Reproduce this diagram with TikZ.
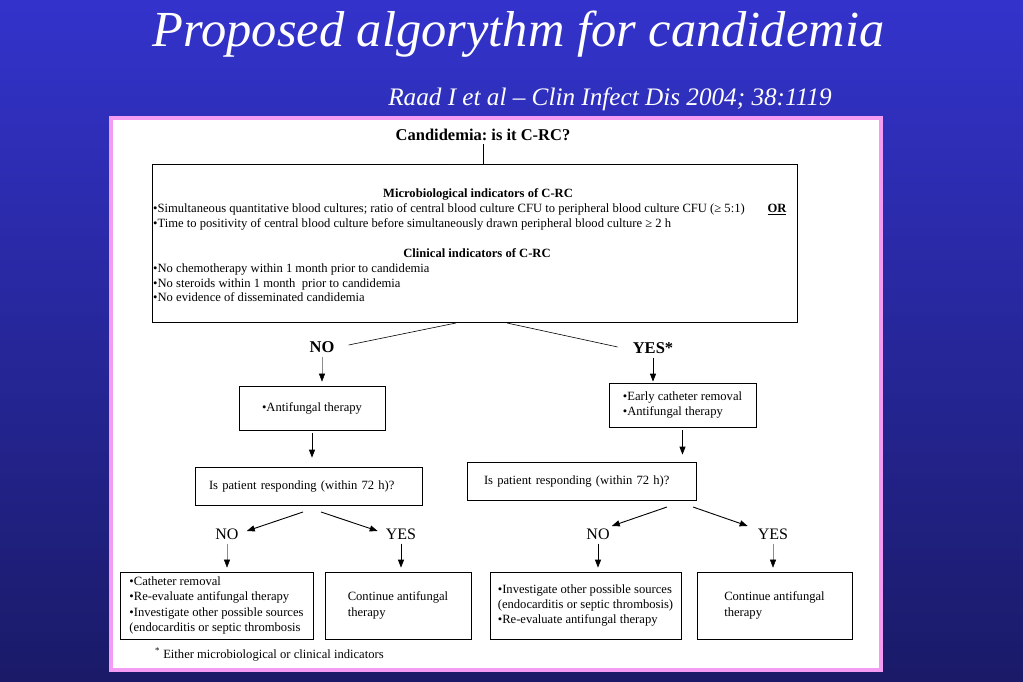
\documentclass[tikz,border=0pt]{standalone}
\usepackage{fontspec}
\setmainfont{Liberation Serif}
\usetikzlibrary{arrows.meta}
\definecolor{SlideTop}{RGB}{51,51,204}
\definecolor{SlideBottom}{RGB}{26,26,104}
\definecolor{PanelPink}{RGB}{244,156,244}
\definecolor{LineGray}{RGB}{140,140,140}
\frenchspacing

\begin{document}
\begin{tikzpicture}[x=1pt,y=-1pt,
  box/.style={draw, line width=0.7pt, inner sep=0pt, font=\fontsize{12.6}{15.3}\selectfont},
  txt/.style={inner sep=0pt, text height=8.5pt, text depth=2.7pt, font=\fontsize{12.6}{15}\selectfont},
  lab/.style={inner sep=2pt, font=\fontsize{16}{16}\selectfont},
  flow/.style={line width=0.9pt, -{Triangle[length=8pt,width=6pt]}},
  flowgray/.style={draw=LineGray, line width=0.5pt, -{Triangle[length=8pt,width=6pt,color=black]}}]
\useasboundingbox (0,0) rectangle (1023,682);

% Slide
\shade[top color=SlideTop, bottom color=SlideBottom] (0,0) rectangle (1023,682);
\node[anchor=base, text=white, font=\fontsize{50.5}{50.5}\selectfont\itshape] (title) at (518.5,47) {Proposed algorythm for candidemia};
\node[anchor=base, text=white, font=\fontsize{25.2}{25.2}\selectfont\itshape] (source) at (610,106) {Raad I et al -- Clin Infect Dis 2004; 38:1119};
\draw[line width=4pt, draw=PanelPink, fill=white] (111,118.5) rectangle (880.5,670);

% Question and indicators
\node[font=\fontsize{16.5}{16.5}\selectfont\bfseries] (q) at (483,135) {Candidemia: is it C-RC?};
\node[box, minimum width=645pt, minimum height=158pt] (crc) at (474.5,243) {};
\node[txt, font=\fontsize{12.6}{15}\selectfont\bfseries] (micro) at (478,194.5) {Microbiological indicators of C-RC};
\node[txt, anchor=west] (micro1) at (153,209.5) {•Simultaneous quantitative blood cultures; ratio of central blood culture CFU to peripheral blood culture CFU (≥ 5:1)};
\node[txt, font=\fontsize{12.6}{15}\selectfont\bfseries] (orlab) at (777,209.5) {\underline{OR}};
\node[txt, anchor=west] (micro2) at (153,224.5) {•Time to positivity of central blood culture before simultaneously drawn peripheral blood culture ≥ 2 h};
\node[txt, font=\fontsize{12.6}{15}\selectfont\bfseries] (clin) at (477,254.5) {Clinical indicators of C-RC};
\node[txt, anchor=west] (clin1) at (153,270) {•No chemotherapy within 1 month prior to candidemia};
\node[txt, anchor=west] (clin2) at (153,284.5) {•No steroids within 1 month\ \ prior to candidemia};
\node[txt, anchor=west] (clin3) at (153,299) {•No evidence of disseminated candidemia};
\coordinate (splitL) at (456,323);
\coordinate (splitR) at (507,323);

% NO branch
\node[lab, font=\fontsize{16.5}{16.5}\selectfont\bfseries] (noTop) at (322,347) {NO};
\node[box, minimum width=146pt, minimum height=44pt] (antif) at (312,408) {•Antifungal therapy};
\node[box, minimum width=227pt, minimum height=38pt, inner xsep=14pt, text width=199pt, align=left] (respL) at (308.5,486) {Is patient responding (within 72 h)?};
\node[lab] (noL) at (227,534) {NO};
\node[lab] (yesL) at (401,534) {YES};
\node[box, minimum width=193pt, minimum height=67pt, align=left] (catL) at (216.5,605.5) {•Catheter removal\\•Re-evaluate antifungal therapy\\•Investigate other possible sources\\(endocarditis or septic thrombosis};
\node[box, minimum width=146pt, minimum height=67pt, align=left] (contL) at (398,605.5) {Continue antifungal\\therapy};
\coordinate (fLno) at (303,512);
\coordinate (fLyes) at (321,512);

% YES branch
\node[lab, font=\fontsize{16.5}{16.5}\selectfont\bfseries] (yesTop) at (653,348) {YES*};
\node[box, minimum width=147pt, minimum height=44pt, align=left] (early) at (682.5,405) {•Early catheter removal\\•Antifungal therapy};
\node[box, minimum width=229pt, minimum height=38pt, inner xsep=17pt, text width=195pt, align=left] (respR) at (581.5,481) {Is patient responding (within 72 h)?};
\node[lab] (noR) at (598,534) {NO};
\node[lab] (yesR) at (773,534) {YES};
\node[box, minimum width=191pt, minimum height=67pt, align=left] (invR) at (585.5,605.5) {•Investigate other possible sources\\(endocarditis or septic thrombosis)\\•Re-evaluate antifungal therapy};
\node[box, minimum width=155pt, minimum height=67pt, align=left] (contR) at (774.5,605.5) {Continue antifungal\\therapy};
\coordinate (fRno) at (667,507);
\coordinate (fRyes) at (693,507);

% Footnote
\node[anchor=base west, inner sep=0pt, font=\fontsize{12.6}{15}\selectfont] (note) at (155,658) {\textsuperscript{*} Either microbiological or clinical indicators};

% Connectors
\draw[line width=0.7pt] (q.south) -- (q.south |- crc.north);
\draw[line width=0.6pt] (splitL) -- ([xshift=12pt,yshift=2pt]noTop.east);
\draw[line width=0.6pt] (splitR) -- ([xshift=-13pt,yshift=1pt]yesTop.west);
\draw[flowgray, shorten <=2pt, shorten >=4pt] (noTop.south) -- (noTop.south |- antif.north);
\draw[flow, shorten <=3pt, shorten >=9pt] (antif.south) -- (antif.south |- respL.north);
\draw[flow] (fLno) -- ([xshift=6pt,yshift=3pt]noL.east);
\draw[flow] (fLyes) -- ([xshift=-6pt,yshift=3pt]yesL.west);
\draw[flowgray, shorten <=2pt, shorten >=4pt] (noL.south) -- (noL.south |- catL.north);
\draw[flow, shorten <=2pt, shorten >=4pt] (yesL.south) -- (yesL.south |- contL.north);
\draw[flow, shorten <=2pt, shorten >=1pt] (yesTop.south) -- (yesTop.south |- early.north);
\draw[flow, shorten <=3pt, shorten >=7pt] (early.south) -- (early.south |- respR.north);
\draw[flow] (fRno) -- ([yshift=8pt]noR.east);
\draw[flow] (fRyes) -- ([xshift=-8pt,yshift=8pt]yesR.west);
\draw[flow, shorten <=2pt, shorten >=4pt] (noR.south) -- (noR.south |- invR.north);
\draw[flowgray, shorten <=2pt, shorten >=4pt] (yesR.south) -- (yesR.south |- contR.north);
\end{tikzpicture}
\end{document}
